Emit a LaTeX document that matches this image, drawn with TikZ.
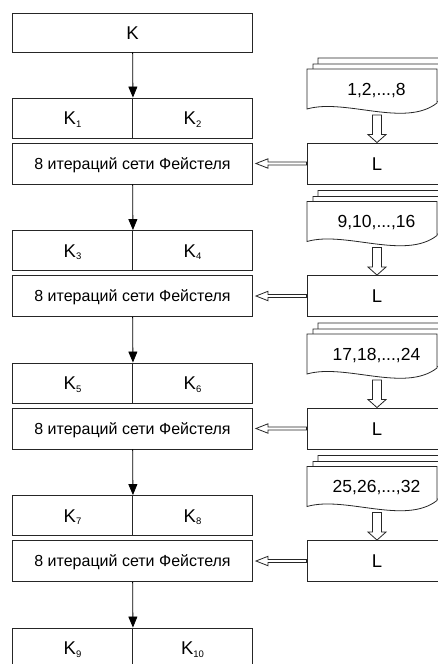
\documentclass[tikz,border=0pt]{standalone}
\usepackage{fontspec}
\setmainfont{Liberation Sans}
\usetikzlibrary{arrows.meta,calc}
\newcommand{\Kidx}[1]{K\raisebox{-2.5pt}{\fontsize{9.5}{10}\selectfont #1}}
\tikzset{
    keybox/.style={draw=black!85,line width=0.9pt,minimum width=240pt,minimum height=39pt,inner sep=0pt,text height=13.3pt,text depth=0pt,font=\fontsize{18.5}{20}\selectfont},
    halfbox/.style={draw=black!85,line width=0.9pt,minimum width=120pt,minimum height=40pt,inner sep=0pt,text height=13.3pt,text depth=0pt,font=\fontsize{18.5}{20}\selectfont},
    feistel/.style={draw=black!85,line width=0.9pt,minimum width=240pt,minimum height=41pt,inner sep=0pt,text height=11.5pt,text depth=0pt,font=\fontsize{16}{18}\selectfont},
    lbox/.style={draw=black!85,line width=0.9pt,minimum width=140pt,minimum height=41pt,inner sep=0pt,text height=13.3pt,text depth=0pt,font=\fontsize{18.5}{20}\selectfont},
    doctext/.style={inner sep=0pt,text height=12.5pt,text depth=0pt,font=\fontsize{17.5}{19}\selectfont},
    page/.style={draw=black!85,line width=0.8pt,fill=white},
    link/.style={-{Triangle[width=9pt,length=11pt]},line width=0.8pt},
    hollow/.style={draw=black!85,line width=0.8pt,fill=white,line join=miter},
}

\begin{document}
\begin{tikzpicture}[x=1pt,y=-1pt]
    \useasboundingbox (0,0) rectangle (438,664);
    % key column
    \node[keybox] (k) at (132.5,32.5) {K};
    \node[halfbox] (k1) at (72.5,118) {\Kidx{1}};
    \node[halfbox] (k2) at (192.5,118) {\Kidx{2}};
    \node[feistel] (f1) at (132.5,163.5) {8 итераций сети Фейстеля};
    \node[halfbox] (k3) at (72.5,250.5) {\Kidx{3}};
    \node[halfbox] (k4) at (192.5,250.5) {\Kidx{4}};
    \node[feistel] (f2) at (132.5,296) {8 итераций сети Фейстеля};
    \node[halfbox] (k5) at (72.5,383) {\Kidx{5}};
    \node[halfbox] (k6) at (192.5,383) {\Kidx{6}};
    \node[feistel] (f3) at (132.5,428.5) {8 итераций сети Фейстеля};
    \node[halfbox] (k7) at (72.5,515.5) {\Kidx{7}};
    \node[halfbox] (k8) at (192.5,515.5) {\Kidx{8}};
    \node[feistel] (f4) at (132.5,561) {8 итераций сети Фейстеля};
    \node[halfbox] (k9) at (72.5,648) {\Kidx{9}};
    \node[halfbox] (k10) at (192.5,648) {\Kidx{10}};
    \draw[link] (k) -- (k1.north east);
    \draw[link] (f1) -- (k3.north east);
    \draw[link] (f2) -- (k5.north east);
    \draw[link] (f3) -- (k7.north east);
    \draw[link] (f4) -- (k9.north east);
    % data blocks
    \coordinate (c1) at (307,69);
    \coordinate (c2) at (307,201.5);
    \coordinate (c3) at (307,334);
    \coordinate (c4) at (307,466.5);
    \foreach \c in {c1,c2,c3,c4}
        \foreach \dx/\dy in {11/-11,6/-5,0/0}
            \draw[page,shift={(\c)},shift={(\dx,\dy)}] (0,0) -- (130,0) -- (130,34)
                .. controls (98,59) and (38,29) .. (0,40) -- cycle;
    \node[doctext] (d1) at (376.5,89) {1,2,...,8};
    \node[doctext] (d2) at (376.5,221.5) {9,10,...,16};
    \node[doctext] (d3) at (376.5,354) {17,18,...,24};
    \node[doctext] (d4) at (376.5,486.5) {25,26,...,32};
    \node[lbox] (l1) at (377,163.5) {L};
    \node[lbox] (l2) at (377,296) {L};
    \node[lbox] (l3) at (377,428.5) {L};
    \node[lbox] (l4) at (377,561) {L};
    % hollow arrows
    \draw[hollow] (l1.north) -- ++(-9,-8) -- ++(4.5,0) -- ++(0,-19.5) -- ++(9,0) -- ++(0,19.5) -- ++(4.5,0) -- cycle;
    \draw[hollow] (l2.north) -- ++(-9,-8) -- ++(4.5,0) -- ++(0,-19.5) -- ++(9,0) -- ++(0,19.5) -- ++(4.5,0) -- cycle;
    \draw[hollow] (l3.north) -- ++(-9,-8) -- ++(4.5,0) -- ++(0,-19.5) -- ++(9,0) -- ++(0,19.5) -- ++(4.5,0) -- cycle;
    \draw[hollow] (l4.north) -- ++(-9,-8) -- ++(4.5,0) -- ++(0,-19.5) -- ++(9,0) -- ++(0,19.5) -- ++(4.5,0) -- cycle;
    \draw[hollow] ($(f1.east)+(3,0)$) -- ++(12,-4.7) -- ++(0,3.2) -- ($(l1.west)+(0,-1.5)$) -- ($(l1.west)+(0,1.5)$) -- ($(f1.east)+(15,1.5)$) -- ++(0,3.2) -- cycle;
    \draw[hollow] ($(f2.east)+(3,0)$) -- ++(12,-4.7) -- ++(0,3.2) -- ($(l2.west)+(0,-1.5)$) -- ($(l2.west)+(0,1.5)$) -- ($(f2.east)+(15,1.5)$) -- ++(0,3.2) -- cycle;
    \draw[hollow] ($(f3.east)+(3,0)$) -- ++(12,-4.7) -- ++(0,3.2) -- ($(l3.west)+(0,-1.5)$) -- ($(l3.west)+(0,1.5)$) -- ($(f3.east)+(15,1.5)$) -- ++(0,3.2) -- cycle;
    \draw[hollow] ($(f4.east)+(3,0)$) -- ++(12,-4.7) -- ++(0,3.2) -- ($(l4.west)+(0,-1.5)$) -- ($(l4.west)+(0,1.5)$) -- ($(f4.east)+(15,1.5)$) -- ++(0,3.2) -- cycle;
\end{tikzpicture}
\end{document}
